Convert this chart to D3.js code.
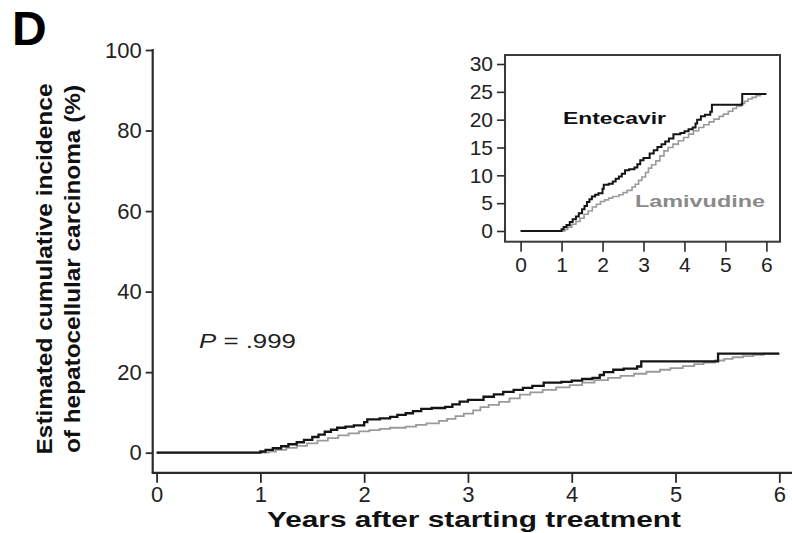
<!DOCTYPE html>
<html>
<head>
<meta charset="utf-8">
<script src="https://cdn.jsdelivr.net/npm/d3@7"></script>
<style>
  body { margin: 0; background: #fff; }
  svg { display: block; font-family: "Liberation Sans", Arial, Helvetica, sans-serif; }
</style>
</head>
<body>
<svg id="chart" width="792" height="533"></svg>
<script>
// Cumulative incidence of hepatocellular carcinoma (%), step estimates by year
const entecavirYears = [0, 1.00, 1.05, 1.12, 1.20, 1.27, 1.35, 1.42, 1.50, 1.56, 1.62, 1.68, 1.74, 1.82, 1.90, 2.00, 2.03, 2.15, 2.25, 2.32, 2.40, 2.47, 2.55, 2.65, 2.78, 2.85, 2.92, 3.00, 3.15, 3.25, 3.34, 3.44, 3.53, 3.62, 3.73, 3.90, 4.00, 4.10, 4.20, 4.27, 4.31, 4.40, 4.50, 4.63, 4.67, 5.41, 6.00];
const entecavirPct   = [0, 0.3, 0.7, 1.1, 1.6, 2.1, 2.6, 3.2, 3.9, 4.5, 5.2, 5.7, 6.2, 6.5, 6.8, 7.6, 8.3, 8.5, 8.9, 9.4, 9.8, 10.3, 10.9, 11.1, 11.4, 12.0, 12.7, 13.1, 13.9, 14.5, 15.1, 15.6, 16.1, 16.6, 17.4, 17.6, 17.9, 18.3, 18.6, 19.3, 20.0, 20.6, 20.9, 21.4, 22.7, 24.6, 24.6];

const lamivudineYears = [0, 1.08, 1.15, 1.25, 1.35, 1.45, 1.55, 1.65, 1.75, 1.85, 1.95, 2.05, 2.15, 2.25, 2.40, 2.50, 2.60, 2.72, 2.80, 2.88, 2.96, 3.05, 3.12, 3.20, 3.30, 3.40, 3.50, 3.60, 3.72, 3.85, 3.98, 4.10, 4.22, 4.35, 4.47, 4.60, 4.72, 4.85, 4.95, 5.07, 5.18, 5.27, 5.38, 5.47, 5.55, 5.65, 5.75, 5.85, 6.00];
const lamivudinePct   = [0, 0.3, 0.7, 1.2, 1.7, 2.3, 3.0, 3.6, 4.3, 4.8, 5.3, 5.6, 5.9, 6.2, 6.5, 6.9, 7.3, 7.9, 8.4, 9.1, 9.7, 10.5, 11.3, 11.9, 12.6, 13.5, 14.4, 15.0, 15.6, 16.2, 16.8, 17.4, 18.0, 18.6, 19.1, 19.6, 20.1, 20.6, 21.0, 21.5, 22.0, 22.4, 22.9, 23.3, 23.7, 24.0, 24.3, 24.6, 24.6];

const yearTicks = [0, 1, 2, 3, 4, 5, 6];
const mainYTicks = [0, 20, 40, 60, 80, 100];
const insetYTicks = [0, 5, 10, 15, 20, 25, 30];

const panelLetter = "D";
const pValueText = ".999";
const xTitle = "Years after starting treatment";
const yTitleLines = ["Estimated cumulative incidence", "of hepatocellular carcinoma (%)"];
const seriesNames = ["Entecavir", "Lamivudine"];

const BLACK = "#151515";
const GRAY = "#9a9a9a";
const AXIS = "#2a2a2a";

const entecavir = entecavirYears.map((t, i) => [t, entecavirPct[i]]);
const lamivudine = lamivudineYears.map((t, i) => [t, lamivudinePct[i]]);

const svg = d3.select("#chart");

// stretch a text element to a given rendered width
function fitWidth(sel, w) {
  sel.attr("textLength", w).attr("lengthAdjust", "spacingAndGlyphs");
  return sel;
}

// ---------- main panel ----------
const x = d3.scaleLinear().domain([0, 6]).range([156.6, 779.3]);
const y = d3.scaleLinear().domain([0, 100]).range([452.7, 50]);
const frameLeft = x(0) - 3.9;     // detached y-axis line
const frameBottom = y(-5);        // detached x-axis line

const yAxis = svg.append("g")
  .attr("transform", `translate(${frameLeft},0)`)
  .call(d3.axisLeft(y).tickValues(mainYTicks).tickSize(7).tickPadding(4).tickFormat(d3.format("d")));
yAxis.select(".domain").remove();
yAxis.selectAll(".tick line").attr("stroke", AXIS).attr("stroke-width", 1.8);
yAxis.selectAll(".tick text").attr("font-size", 22).attr("fill", "#222")
  .attr("font-family", "Liberation Sans, Arial, sans-serif");

const xAxis = svg.append("g")
  .attr("transform", `translate(0,${frameBottom})`)
  .call(d3.axisBottom(x).tickValues(yearTicks).tickSize(10).tickPadding(4).tickFormat(d3.format("d")));
xAxis.select(".domain").remove();
xAxis.selectAll(".tick line").attr("stroke", AXIS).attr("stroke-width", 1.8);
xAxis.selectAll(".tick text").attr("font-size", 22).attr("fill", "#222")
  .attr("font-family", "Liberation Sans, Arial, sans-serif");

// axis frame lines
svg.append("line")
  .attr("x1", frameLeft).attr("x2", frameLeft)
  .attr("y1", y(100) - 1).attr("y2", frameBottom)
  .attr("stroke", AXIS).attr("stroke-width", 2.2);
svg.append("line")
  .attr("x1", frameLeft - 1).attr("x2", 792)
  .attr("y1", frameBottom).attr("y2", frameBottom)
  .attr("stroke", AXIS).attr("stroke-width", 2.4);

const stepLine = (sx, sy) => d3.line().curve(d3.curveStepAfter).x(d => sx(d[0])).y(d => sy(d[1]));

svg.append("path").datum(lamivudine)
  .attr("d", stepLine(x, y)).attr("fill", "none")
  .attr("stroke", GRAY).attr("stroke-width", 1.8);
svg.append("path").datum(entecavir)
  .attr("d", stepLine(x, y)).attr("fill", "none")
  .attr("stroke", BLACK).attr("stroke-width", 2.3);

// P value
const pText = svg.append("text")
  .attr("x", 199).attr("y", 348)
  .attr("font-size", 21).attr("fill", "#222");
pText.append("tspan").attr("font-style", "italic").text("P");
pText.append("tspan").text(" = " + pValueText);
fitWidth(pText, 97);

// axis titles
fitWidth(svg.append("text")
  .attr("x", 267).attr("y", 527)
  .attr("font-size", 22).attr("font-weight", "bold").attr("fill", "#111")
  .text(xTitle), 414);

const yTitle = svg.append("g").attr("transform", "translate(0,269) rotate(-90)");
yTitleLines.forEach((line, i) => {
  fitWidth(yTitle.append("text")
    .attr("x", 0).attr("y", i === 0 ? 52 : 80)
    .attr("text-anchor", "middle")
    .attr("font-size", 22).attr("font-weight", "bold").attr("fill", "#111")
    .text(line), i === 0 ? 371 : 368);
});

// panel letter
svg.append("text")
  .attr("x", 12).attr("y", 45)
  .attr("font-size", 48).attr("font-weight", "bold").attr("fill", "#000")
  .text(panelLetter);

// ---------- inset ----------
const ix = d3.scaleLinear().domain([0, 6]).range([520.6, 766.4]);
const iy = d3.scaleLinear().domain([0, 30]).range([231, 64]);
const box = { left: 505, top: 55, right: 780, bottom: 241.7 };

svg.append("rect")
  .attr("x", box.left).attr("y", box.top)
  .attr("width", box.right - box.left).attr("height", box.bottom - box.top)
  .attr("fill", "#fff").attr("stroke", "#3a3a3a").attr("stroke-width", 2);

const iyAxis = svg.append("g")
  .attr("transform", `translate(${box.left},0)`)
  .call(d3.axisLeft(iy).tickValues(insetYTicks).tickSize(8).tickPadding(4).tickFormat(d3.format("d")));
iyAxis.select(".domain").remove();
iyAxis.selectAll(".tick line").attr("stroke", AXIS).attr("stroke-width", 1.6);
iyAxis.selectAll(".tick text").attr("font-size", 21).attr("fill", "#222")
  .attr("font-family", "Liberation Sans, Arial, sans-serif");

const ixAxis = svg.append("g")
  .attr("transform", `translate(0,${box.bottom})`)
  .call(d3.axisBottom(ix).tickValues(yearTicks).tickSize(10).tickPadding(5).tickFormat(d3.format("d")));
ixAxis.select(".domain").remove();
ixAxis.selectAll(".tick line").attr("stroke", AXIS).attr("stroke-width", 1.6);
ixAxis.selectAll(".tick text").attr("font-size", 21).attr("fill", "#222")
  .attr("font-family", "Liberation Sans, Arial, sans-serif");

svg.append("path").datum(lamivudine)
  .attr("d", stepLine(ix, iy)).attr("fill", "none")
  .attr("stroke", GRAY).attr("stroke-width", 1.6);
svg.append("path").datum(entecavir)
  .attr("d", stepLine(ix, iy)).attr("fill", "none")
  .attr("stroke", BLACK).attr("stroke-width", 2);

fitWidth(svg.append("text")
  .attr("x", 563).attr("y", 124)
  .attr("font-size", 17).attr("font-weight", "bold").attr("fill", "#111")
  .text(seriesNames[0]), 103);
fitWidth(svg.append("text")
  .attr("x", 635).attr("y", 207)
  .attr("font-size", 17).attr("font-weight", "bold").attr("fill", "#8a8a8a")
  .text(seriesNames[1]), 130);
</script>
</body>
</html>
